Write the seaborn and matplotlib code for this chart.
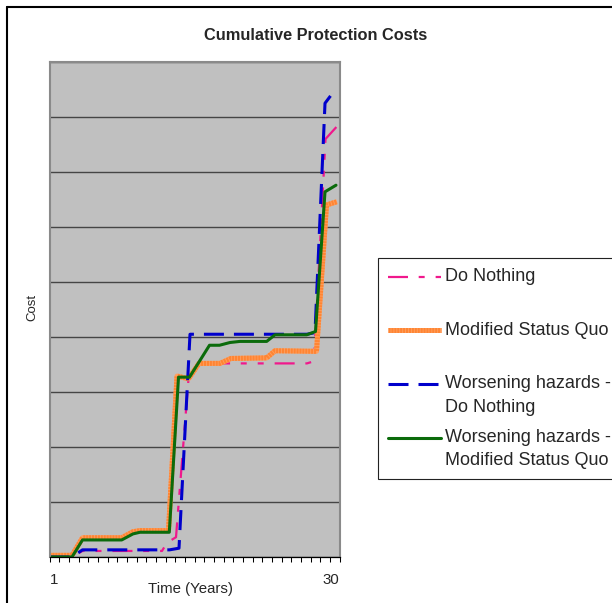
import numpy as np
import matplotlib
matplotlib.use("Agg")
import matplotlib.pyplot as plt
import matplotlib.patheffects as pe
from matplotlib.lines import Line2D
from matplotlib.legend_handler import HandlerLine2D
import seaborn as sns

# Cumulative protection cost per scenario (cost in gridline units, time in years)
dn_years = [1, 3.25, 4.3, 12.25, 12.75, 13.65, 14.9, 15.95, 26.75, 27.45, 28.6, 29.7]
dn_cost = [0, 0, 0.11, 0.11, 0.26, 0.36, 3.24, 3.52, 3.52, 3.56, 7.6, 7.82]

msq_years = [1, 3.25, 4.3, 8.22, 9.35, 10.05, 12.9, 13.75, 14.9, 15.95, 18.05,
             19.15, 22.72, 23.55, 27.55, 27.7, 28.7, 29.75]
msq_cost = [0.03, 0.03, 0.35, 0.35, 0.46, 0.48, 0.48, 3.29, 3.24, 3.52, 3.52,
            3.61, 3.62, 3.75, 3.74, 3.74, 6.4, 6.46]

wdn_years = [1, 3.25, 4.3, 13.0, 13.95, 15.05, 26.75, 27.55, 28.55, 29.5]
wdn_cost = [0, 0, 0.13, 0.13, 0.16, 4.05, 4.05, 4.08, 8.25, 8.48]

wmsq_years = [1, 3.25, 4.3, 8.22, 9.35, 10.05, 12.98, 13.9, 15.0, 17.0, 18.0,
              19.05, 20.05, 22.72, 23.55, 26.72, 27.6, 28.55, 29.65]
wmsq_cost = [0, 0, 0.31, 0.31, 0.42, 0.45, 0.45, 3.27, 3.27, 3.85, 3.85,
             3.90, 3.92, 3.92, 4.04, 4.04, 4.10, 6.64, 6.76]

series_labels = ["Do Nothing\n", "Modified Status Quo\n",
                 "Worsening hazards -\nDo Nothing",
                 "Worsening hazards -\nModified Status Quo"]
x_tick_labels = ["1", "30"]

sns.set_style("white")
plt.rcParams["font.family"] = ["Liberation Sans", "DejaVu Sans"]
plt.rcParams["lines.scale_dashes"] = False

W, H = 612, 603
fig = plt.figure(figsize=(W / 100, H / 100), dpi=100)
fig.patch.set_facecolor("white")
ax = fig.add_axes([49.5 / W, 1 - 557 / H, 290 / W, 495 / H])
ax.set_facecolor("#C0C0C0")


def draw(x, y, color, lw):
    sns.lineplot(x=x, y=y, ax=ax, color=color, linewidth=lw,
                 estimator=None, sort=False, legend=False)
    return ax.lines[-1]


l_dn = draw(dn_years, dn_cost, "#F0188C", 1.6)
l_dn.set_dashes([14.4, 7.7, 4.3, 7.9, 4.3, 7.9])

l_msq = draw(msq_years, msq_cost, "#FF8533", 3.6)
l_msq.set_dashes([1.5, 0.6])
l_msq.set_path_effects([
    pe.Stroke(linewidth=3.6, foreground="#FFA060",
              dashes={"dash_offset": 0, "dash_list": None}),
    pe.Normal(),
])

l_wdn = draw(wdn_years, wdn_cost, "#0000CC", 2.2)
l_wdn.set_dashes([14.4, 7.2])

l_wmsq = draw(wmsq_years, wmsq_cost, "#0B6B0B", 2.2)

ax.set_xlim(1, 30)
ax.set_ylim(0, 9)

# axes styling
ax.set_xticks([1, 30], x_tick_labels)
ax.set_xticks(np.linspace(1, 30, 31), minor=True)
ax.tick_params(axis="x", which="both", direction="out", length=3.6, width=0.75,
               color="black", pad=7.9, labelsize=10.8, bottom=True)
ax.get_xticklabels()[0].set_ha("left")
ax.get_xticklabels()[1].set_ha("right")
ax.set_yticks(range(10))
ax.tick_params(axis="y", left=False, labelleft=False)
ax.grid(axis="y", color="#454545", linewidth=1.0)
ax.grid(axis="x", visible=False)
ax.set_axisbelow(True)
for side in ("top", "left", "right"):
    ax.spines[side].set_color("#8a8a8a")
    ax.spines[side].set_linewidth(1.5)
ax.spines["bottom"].set_color("black")
ax.spines["bottom"].set_linewidth(0.9)

ax.set_xlabel("Time (Years)", fontsize=10.8)
ax.xaxis.set_label_coords((191 - 49.5) / 290, (557 - 589) / 495)
ax.xaxis.label.set_va("center")
ax.set_ylabel("Cost", fontsize=9.5)
ax.yaxis.set_label_coords((32.5 - 49.5) / 290, (557 - 307) / 495)
ax.yaxis.label.set_va("center")

fig.text(316 / W, 1 - 36 / H, "Cumulative Protection Costs", ha="center",
         va="center", fontsize=11.8, fontweight="bold")


class FirstLineHandler(HandlerLine2D):
    """Legend line aligned with the first line of its label."""

    def __init__(self, x0, dy, **kw):
        super().__init__(**kw)
        self.x0 = x0
        self.dy = dy

    def create_artists(self, legend, orig_handle, xdescent, ydescent, width,
                       height, fontsize, trans):
        artists = super().create_artists(legend, orig_handle, xdescent,
                                         ydescent, width, height, fontsize,
                                         trans)
        for a in artists:
            xd = np.asarray(a.get_xdata(), float)
            yd = np.asarray(a.get_ydata(), float)
            if xd.size == 2:
                xd = np.array([xd[0] + self.x0, xd[1]])
            a.set_data(xd, yd + self.dy)
        return artists


leg = ax.legend([l_dn, l_msq, l_wdn, l_wmsq], series_labels,
                loc="upper left", bbox_to_anchor=(378 / W, 1 - 258 / H),
                bbox_transform=fig.transFigure, borderaxespad=0, fontsize=13,
                frameon=True, fancybox=False, edgecolor="#222222",
                framealpha=1, borderpad=0.55, labelspacing=0.71,
                handlelength=2.93, handletextpad=0.22,
                handler_map={Line2D: FirstLineHandler(0.75, 8.4)})
leg.get_frame().set_linewidth(0.8)
for t in leg.get_texts():
    t.set_linespacing(1.52)

# chart area border
fig.add_artist(Line2D([7.3 / W, 7.3 / W], [1 - 7.3 / H, 0],
                      transform=fig.transFigure, color="black", lw=1.5))
fig.add_artist(Line2D([7.3 / W, 1], [1 - 7.3 / H, 1 - 7.3 / H],
                      transform=fig.transFigure, color="black", lw=1.5))

fig.savefig("out.png", dpi=100)
